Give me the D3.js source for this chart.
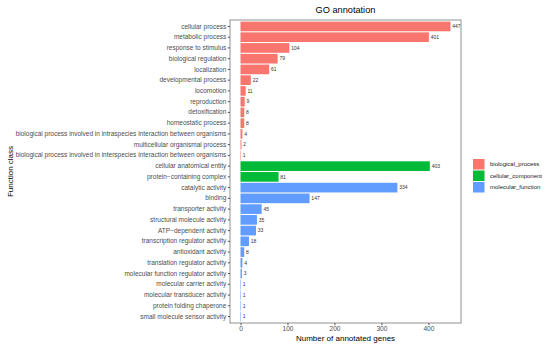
<!DOCTYPE html>
<html>
<head>
<meta charset="utf-8">
<script src="https://cdn.jsdelivr.net/npm/d3@7"></script>
<style>
  body { margin: 0; background: white; }
  svg { font-family: "Liberation Sans", Arial, sans-serif; }
</style>
</head>
<body>
<svg></svg>
<script>
const terms = [
  "cellular process", "metabolic process", "response to stimulus", "biological regulation",
  "localization", "developmental process", "locomotion", "reproduction", "detoxification",
  "homeostatic process",
  "biological process involved in intraspecies interaction between organisms",
  "multicellular organismal process",
  "biological process involved in interspecies interaction between organisms",
  "cellular anatomical entity", "protein\u2212containing complex",
  "catalytic activity", "binding", "transporter activity", "structural molecule activity",
  "ATP\u2212dependent activity", "transcription regulator activity", "antioxidant activity",
  "translation regulator activity", "molecular function regulator activity",
  "molecular carrier activity", "molecular transducer activity", "protein folding chaperone",
  "small molecule sensor activity"
];
const counts = [447, 401, 104, 79, 61, 22, 11, 9, 8, 8, 4, 2, 1, 403, 81,
  334, 147, 45, 35, 33, 18, 8, 4, 3, 1, 1, 1, 1];
const groups = [
  "biological_process", "biological_process", "biological_process", "biological_process",
  "biological_process", "biological_process", "biological_process", "biological_process",
  "biological_process", "biological_process", "biological_process", "biological_process",
  "biological_process", "cellular_component", "cellular_component",
  "molecular_function", "molecular_function", "molecular_function", "molecular_function",
  "molecular_function", "molecular_function", "molecular_function", "molecular_function",
  "molecular_function", "molecular_function", "molecular_function", "molecular_function",
  "molecular_function"
];
const ontologies = ["biological_process", "cellular_component", "molecular_function"];
const xTicks = [0, 100, 200, 300, 400];

const data = terms.map((t, i) => ({ term: t, n: counts[i], group: groups[i] }));

const W = 550, H = 346;
const panel = { left: 230, right: 461, top: 20, bottom: 323 };

const svg = d3.select("svg").attr("width", W).attr("height", H);

const color = d3.scaleOrdinal()
  .domain(ontologies)
  .range(["#F8766D", "#00BA38", "#619CFF"]);

const maxN = d3.max(counts);
const x = d3.scaleLinear()
  .domain([-maxN * 0.05, maxN * 1.05])
  .range([panel.left, panel.right]);

const y = d3.scaleBand()
  .domain(terms)
  .range([panel.top, panel.bottom])
  .paddingInner(0.1)
  .paddingOuter(0.15);

// bars
svg.append("g")
  .selectAll("rect")
  .data(data)
  .join("rect")
  .attr("x", x(0))
  .attr("y", d => y(d.term))
  .attr("width", d => x(d.n) - x(0))
  .attr("height", y.bandwidth())
  .attr("fill", d => color(d.group));

// value labels
svg.append("g")
  .selectAll("text")
  .data(data)
  .join("text")
  .attr("x", d => x(d.n) + 1.8)
  .attr("y", d => y(d.term) + y.bandwidth() / 2)
  .attr("dy", "0.35em")
  .style("font-size", "5px")
  .style("fill", "#333")
  .text(d => d.n);

// panel border
svg.append("rect")
  .attr("x", panel.left)
  .attr("y", panel.top)
  .attr("width", panel.right - panel.left)
  .attr("height", panel.bottom - panel.top)
  .attr("fill", "none")
  .attr("stroke", "#777")
  .attr("stroke-width", 0.8);

// y axis
const yAxis = svg.append("g")
  .attr("transform", `translate(${panel.left},0)`)
  .call(d3.axisLeft(y).tickSize(2.2).tickPadding(1.5));
yAxis.select(".domain").remove();
yAxis.selectAll("line").attr("stroke", "#555");
yAxis.selectAll("text")
  .style("font-size", "6.5px")
  .style("fill", "#4d4d4d")
  .style("font-family", "Liberation Sans, Arial, sans-serif");

// x axis
const xAxis = svg.append("g")
  .attr("transform", `translate(0,${panel.bottom})`)
  .call(d3.axisBottom(x).tickValues(xTicks).tickSize(2.2).tickPadding(1.5));
xAxis.select(".domain").remove();
xAxis.selectAll("line").attr("stroke", "#555");
xAxis.selectAll("text")
  .style("font-size", "6.6px")
  .style("fill", "#4d4d4d")
  .style("font-family", "Liberation Sans, Arial, sans-serif");

// titles
svg.append("text")
  .attr("x", (panel.left + panel.right) / 2)
  .attr("y", 13)
  .attr("text-anchor", "middle")
  .style("font-size", "9.2px")
  .text("GO annotation");

svg.append("text")
  .attr("x", (panel.left + panel.right) / 2)
  .attr("y", 340.5)
  .attr("text-anchor", "middle")
  .style("font-size", "8px")
  .text("Number of annotated genes");

svg.append("text")
  .attr("transform", `translate(12.5,${(panel.top + panel.bottom) / 2}) rotate(-90)`)
  .attr("text-anchor", "middle")
  .style("font-size", "8px")
  .text("Function class");

// legend
const legend = svg.append("g")
  .attr("transform", "translate(473,159)");

ontologies.forEach((o, i) => {
  const row = legend.append("g")
    .attr("transform", `translate(0,${i * 11.5})`);
  row.append("rect")
    .attr("width", 11.5)
    .attr("height", 10.5)
    .attr("fill", color(o));
  row.append("text")
    .attr("x", 17)
    .attr("y", 5.25)
    .attr("dy", "0.35em")
    .style("font-size", "6px")
    .style("fill", "#222")
    .text(o);
});
</script>
</body>
</html>
